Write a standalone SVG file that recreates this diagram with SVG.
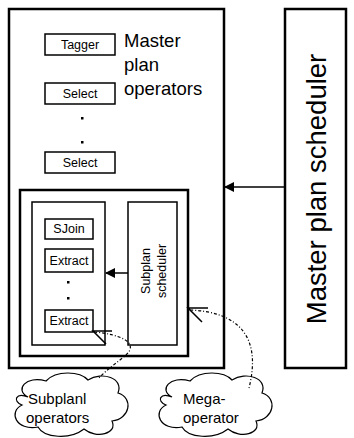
<svg xmlns="http://www.w3.org/2000/svg" width="354" height="438" viewBox="0 0 354 438">
<defs>
<style>
.box{fill:#fff;stroke:#000;stroke-width:1.5}
.big{fill:none;stroke:#000;stroke-width:2.5}
.lbl{font-family:"Liberation Sans",Arial,sans-serif;fill:#000}
.small{font-size:12.5px;text-anchor:middle}
.dot{fill:#000}
.conn{fill:none;stroke:#000;stroke-width:1.5}
.dash{fill:none;stroke:#000;stroke-width:1.2;stroke-dasharray:3 2 1 2}
.cloud{fill:#fff;stroke:#000;stroke-width:1.2}
</style>
<marker id="ah" markerWidth="10" markerHeight="10" refX="9" refY="5" orient="auto" markerUnits="userSpaceOnUse">
<path d="M0,0 L10,5 L0,10 Z" fill="#000"/>
</marker>
</defs>
<rect width="354" height="438" fill="#fff"/>

<g id="master-plan-operators">
<rect x="9" y="9" width="215" height="359" class="big"/>
<text class="lbl" x="124" y="47" font-size="18.5">Master</text>
<text class="lbl" x="124" y="71" font-size="18.5">plan</text>
<text class="lbl" x="124" y="95" font-size="18.5">operators</text>
</g>
<g id="tagger">
<rect x="45" y="34" width="70" height="21" class="box"/>
<text class="lbl small" x="80" y="49">Tagger</text>
</g>
<g id="select1">
<rect x="45" y="83" width="70" height="21" class="box"/>
<text class="lbl small" x="80" y="98">Select</text>
</g>
<rect x="81" y="117" width="2.5" height="2.5" class="dot"/>
<rect x="81" y="141" width="2.5" height="2.5" class="dot"/>
<g id="select2">
<rect x="45" y="152" width="70" height="21" class="box"/>
<text class="lbl small" x="80" y="167">Select</text>
</g>

<g id="subplan">
<rect x="20" y="190" width="168" height="166" class="big"/>
</g>
<g id="subplan-operators-box">
<rect x="32" y="202" width="73" height="143" class="box"/>
</g>
<g id="sjoin">
<rect x="45" y="219" width="48" height="20" class="box"/>
<text class="lbl small" x="69" y="233" font-size="11.5">SJoin</text>
</g>
<g id="extract1">
<rect x="45" y="249" width="48" height="23" class="box"/>
<text class="lbl small" x="69" y="265" font-size="11.5">Extract</text>
</g>
<rect x="67" y="281" width="2.5" height="2.5" class="dot"/>
<rect x="67" y="297" width="2.5" height="2.5" class="dot"/>
<g id="extract2">
<rect x="45" y="310" width="48" height="22" class="box"/>
<text class="lbl small" x="69" y="325" font-size="11.5">Extract</text>
</g>
<g id="subplan-scheduler">
<rect x="128" y="202" width="49" height="143" class="box"/>
<text class="lbl small" font-size="14.5" transform="translate(150,271) rotate(-90)">Subplan</text>
<text class="lbl small" font-size="14.5" transform="translate(166,271) rotate(-90)">scheduler</text>
</g>

<g id="master-plan-scheduler">
<rect x="285" y="9" width="61" height="359" class="big"/>
<text class="lbl" font-size="27.5" text-anchor="middle" transform="translate(326,189) rotate(-90)">Master plan scheduler</text>
</g>

<g id="subplan-cloud">
<path class="cloud" d="M28,397 C14,390 26,375 46,381 C56,370 80,371 88,380 C102,371 124,378 118,393 C134,398 130,419 112,421 C118,434 96,439 84,429 C70,440 44,438 38,427 C16,431 8,412 22,405 C12,401 16,392 28,397 Z"/>
<text class="lbl" x="28" y="404" font-size="15">Subplanl</text>
<text class="lbl" x="26" y="423" font-size="15">operators</text>
</g>
<g id="mega-cloud">
<path class="cloud" d="M172,397 C158,390 170,375 190,381 C200,370 224,371 232,380 C246,371 268,378 262,393 C278,398 274,419 256,421 C262,434 240,439 228,429 C214,440 188,438 182,427 C160,431 152,412 166,405 C156,401 160,392 172,397 Z"/>
<text class="lbl" x="183" y="404" font-size="15">Mega-</text>
<text class="lbl" x="183" y="423" font-size="15">operator</text>
</g>

<g id="connectors">
<line x1="285" y1="187" x2="225" y2="187" class="conn" marker-end="url(#ah)"/>
<line x1="128" y1="273" x2="106" y2="273" class="conn" marker-end="url(#ah)"/>
<path class="dash" d="M94,332 C118,334 140,342 126,355 C118,362 106,370 98,379"/>
<path class="conn" d="M112,331 L93,331 L106,344" stroke-width="1"/>
<path class="dash" d="M190,310 C238,312 262,336 249,388"/>
<path class="conn" d="M208,308 L188,308 L202,322" stroke-width="1"/>
</g>
</svg>
